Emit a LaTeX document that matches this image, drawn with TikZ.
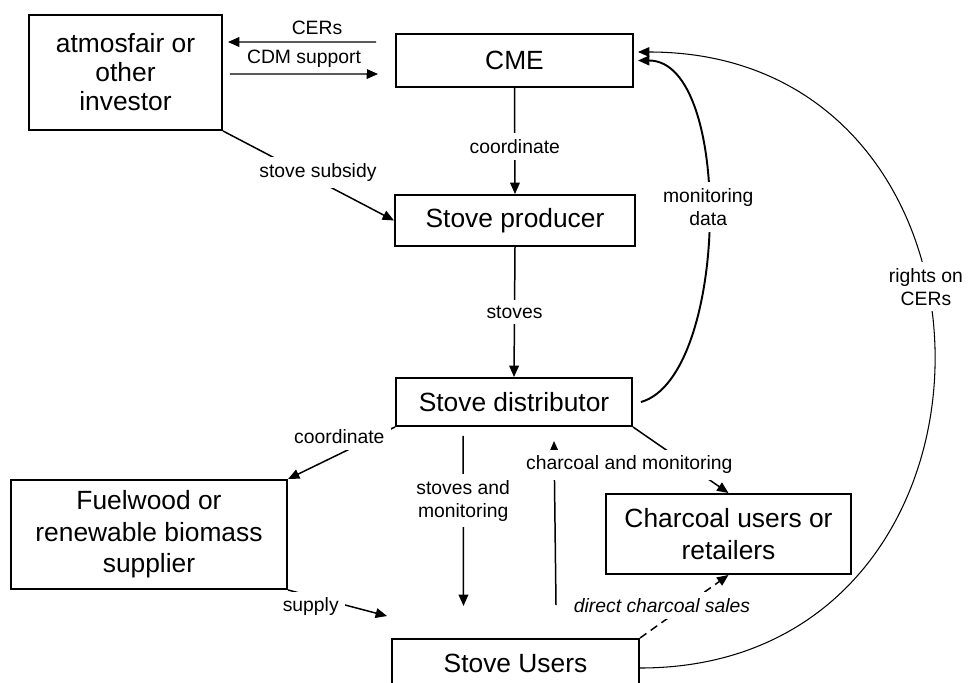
\documentclass[tikz,border=0pt]{standalone}
\usepackage{fontspec}
\setmainfont{Liberation Sans}
\usetikzlibrary{arrows.meta}

\begin{document}
\begin{tikzpicture}[
        >={Triangle[length=6.5pt,width=5.5pt]},
        box/.style={draw, line width=1.1pt, align=center, inner sep=0pt,
                font=\fontsize{15}{18}\selectfont},
        lbl/.style={fill=white, inner sep=3.5pt, align=center,
                font=\fontsize{11}{13}\selectfont},
        flow/.style={->, line width=0.85pt}
    ]
        \useasboundingbox (0,0) rectangle (19.46,13.64);
        \clip (0,0) rectangle (19.46,13.64);

        \node[box, minimum width=3.86cm, minimum height=2.3cm, font=\fontsize{15}{16.5}\selectfont] (inv) at (2.51,12.19) {atmosfair or\\other\\investor};
        \node[box, minimum width=4.74cm, minimum height=1.06cm] (cme) at (10.29,12.43) {CME};
        \node[box, minimum width=4.8cm, minimum height=1.02cm] (prod) at (10.3,9.23) {Stove producer};
        \node[box, minimum width=4.72cm, minimum height=0.96cm] (dist) at (10.28,5.6) {Stove distributor};
        \node[box, minimum width=5.52cm, minimum height=2.18cm] (fuel) at (2.98,2.95) {Fuelwood or\\renewable biomass\\supplier};
        \node[box, minimum width=4.9cm, minimum height=1.6cm] (char) at (14.57,2.96) {Charcoal users or\\retailers};
        \node[box, minimum width=4.94cm, minimum height=0.98cm] (users) at (10.31,0.37) {Stove Users};

        \draw[flow] ([xshift=-0.38cm,yshift=0.37cm]cme.west) -- node[lbl, above, xshift=0.3cm] {CERs} ([xshift=0.1cm,yshift=0.61cm]inv.east);
        \draw[flow] ([xshift=0.14cm,yshift=-0.03cm]inv.east) -- node[lbl, above] {CDM support} ([xshift=-0.34cm,yshift=-0.27cm]cme.west);
        \draw[flow] (inv.south east) -- node[lbl, pos=0.555, yshift=0.16cm] {stove subsidy} (prod.west);
        \draw[flow] (cme.south) -- node[lbl, pos=0.55] {coordinate} (prod.north);
        \draw[flow] (prod.south) -- node[lbl] {stoves} (dist.north);
        \draw[flow, line width=1.1pt] ([xshift=0.16cm]dist.east) .. controls +(1.76,0.5) and +(1.92,0) .. node[lbl, pos=0.53] {monitoring\\data} ([xshift=0.08cm]cme.east);
        \draw[flow, line width=0.6pt] ([yshift=-0.09cm]users.east) .. controls +(7.86,0) and +(7.86,0) .. node[lbl, pos=0.58] {rights on\\CERs} ([xshift=0.08cm,yshift=0.17cm]cme.east);
        \draw[flow] (dist.south west) -- node[lbl, pos=0.52, yshift=0.34cm] {coordinate} (fuel.north east);
        \draw[flow] (fuel.south east) -- node[lbl, pos=0.23, yshift=-0.22cm] {supply} ([xshift=-0.08cm,yshift=0.44cm]users.north west);
        \draw[flow] ([xshift=-1.02cm,yshift=-0.18cm]dist.south) -- node[lbl, pos=0.38] {stoves and\\monitoring} ([xshift=-1.04cm,yshift=0.64cm]users.north);
        \draw[flow] (dist.south east) -- (char.north);
        \draw[flow] ([xshift=0.81cm,yshift=0.66cm]users.north) -- node[lbl, pos=0.855, xshift=1.5cm] {charcoal and monitoring} ([xshift=0.8cm,yshift=-0.28cm]dist.south);
        \draw[flow, dash pattern=on 4.5pt off 3pt] (users.north east) -- node[lbl, pos=0.52, xshift=-0.48cm, font=\fontsize{11}{13}\selectfont\itshape] {direct charcoal sales} (char.south);
    \end{tikzpicture}
\end{document}
